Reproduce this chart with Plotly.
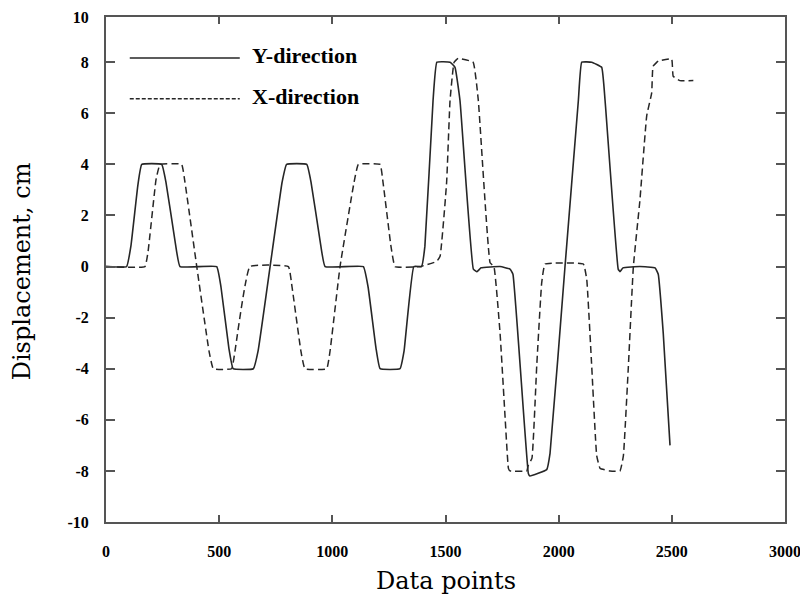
import plotly.graph_objects as go

# Y-direction (solid) displacement vs data point index
y_dir_x = [0, 91, 110, 141, 158, 246, 265, 305, 327, 489, 508, 543, 562, 651, 672, 725, 778, 798,
           887, 906, 946, 968, 1137, 1158, 1193, 1211, 1299, 1317, 1360, 1394, 1409, 1445, 1462,
           1520, 1542, 1564, 1623, 1639, 1657, 1741, 1785, 1798, 1866, 1873, 1947, 1962, 2028,
           2087, 2102, 2146, 2190, 2205, 2263, 2271, 2284, 2359, 2426, 2440, 2462, 2492]
y_dir_v = [0, 0, 0.8, 3.2, 4, 4, 3.3, 1.0, 0, 0, -0.8, -3.2, -4, -4, -3.3, 0, 3.3, 4,
           4, 3.3, 1.0, 0, 0, -0.8, -3.2, -4, -4, -3.3, 0, 0, 0.8, 6.5, 8.0,
           8.0, 7.8, 6.5, -0.1, -0.2, -0.05, 0, -0.1, -0.3, -8.1, -8.2, -7.95, -7.3, 0,
           6.5, 8.0, 8.0, 7.8, 6.5, -0.1, -0.2, -0.05, 0, -0.05, -0.3, -2.6, -7.0]

# X-direction (dashed)
x_dir_x = [0, 172, 186, 221, 239, 334, 349, 401, 455, 474, 555, 570, 636, 806, 822, 861, 879,
           975, 990, 1034, 1096, 1115, 1211, 1224, 1259, 1277, 1387, 1461, 1476, 1505, 1520,
           1538, 1556, 1622, 1645, 1697, 1714, 1741, 1763, 1778, 1785, 1859, 1865, 1882, 1903,
           1925, 1940, 2109, 2124, 2146, 2168, 2183, 2227, 2271, 2286, 2308, 2330, 2359, 2389,
           2411, 2417, 2440, 2499, 2506, 2536, 2595]
x_dir_v = [0, 0, 0.6, 3.4, 4, 4, 3.3, 0, -3.3, -4, -4, -3.3, 0, 0, -0.8, -3.3, -4,
           -4, -3.3, 0, 3.3, 4, 4, 3.3, 0.8, 0, 0, 0.2, 0.4, 3.3, 6.5,
           8.0, 8.15, 8.0, 6.5, 0.15, 0.0, -2.6, -5.86, -7.9, -8.0, -8.0, -7.8, -7.5, -3.9,
           -0.64, 0.1, 0.1, -0.5, -3.9, -7.4, -7.9, -8.0, -8.0, -7.4, -3.9, 0, 2.6, 5.9,
           6.8, 7.84, 8.04, 8.13, 7.45, 7.28, 7.28]

x_ticks = [0, 500, 1000, 1500, 2000, 2500, 3000]
y_ticks = [-10, -8, -6, -4, -2, 0, 2, 4, 6, 8]
y_top = 9.77
y_tick_vals = y_ticks + [y_top]
y_tick_text = [str(v) for v in y_ticks] + ["10"]

series_names = ["Y-direction", "X-direction"]
x_title = "Data points"
y_title = "Displacement, cm"

fig = go.Figure()
fig.add_trace(go.Scatter(x=y_dir_x, y=y_dir_v, mode="lines", name=series_names[0],
                         line=dict(color="#262626", width=1.6, shape="spline", smoothing=0.3),
                         showlegend=False))
fig.add_trace(go.Scatter(x=x_dir_x, y=x_dir_v, mode="lines", name=series_names[1],
                         line=dict(color="#262626", width=1.5, dash="7px,4px", shape="spline",
                                   smoothing=0.3),
                         showlegend=False))

tickfont = dict(family="Liberation Serif", size=16, color="black", weight="bold")
axis_common = dict(showgrid=False, zeroline=False, showline=True, linecolor="#555555",
                   linewidth=2, mirror="ticks", ticks="inside", tickcolor="#555555",
                   tickwidth=1.5, tickfont=tickfont, automargin=False,
                   ticklabeloverflow="allow")

fig.update_layout(
    width=800, height=597,
    margin=dict(l=106, r=15, t=17, b=75),
    paper_bgcolor="white", plot_bgcolor="white",
    xaxis=dict(range=[0, 3000], tickvals=x_ticks, ticklen=7, ticklabelstandoff=14,
               **axis_common),
    yaxis=dict(range=[-10, y_top], tickvals=y_tick_vals, ticktext=y_tick_text, ticklen=9,
               ticklabelstandoff=12, **axis_common),
)

title_font = dict(family="DejaVu Serif", size=24, color="black")
fig.add_annotation(xref="paper", yref="paper", x=0.5, y=-0.117, yanchor="middle",
                   text=x_title, showarrow=False, font=title_font)
fig.add_annotation(xref="paper", yref="paper", x=-0.124, y=0.496, xanchor="center",
                   yanchor="middle", text=y_title, textangle=-90, showarrow=False, font=title_font)

# Legend drawn in the top-left of the plot area
leg_y = [0.919, 0.838]
dashes = ["solid", "4px,2px"]
for name, yy, d in zip(series_names, leg_y, dashes):
    fig.add_shape(type="line", xref="paper", yref="paper", x0=0.035, x1=0.197, y0=yy, y1=yy,
                  line=dict(color="#262626", width=1.5, dash=d))
    fig.add_annotation(xref="paper", yref="paper", x=0.212, y=yy + 0.004, text=f"<b>{name}</b>",
                       showarrow=False, xanchor="left", yanchor="middle",
                       font=dict(family="Liberation Serif", size=22, color="black"))

fig.write_html("out.html")
